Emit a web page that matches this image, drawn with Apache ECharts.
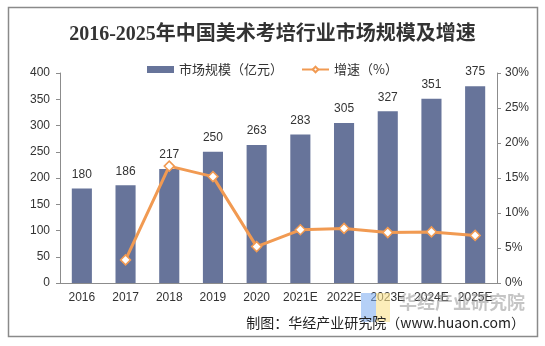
<!DOCTYPE html>
<html>
<head>
<meta charset="utf-8">
<script src="https://cdn.jsdelivr.net/npm/echarts@6/dist/echarts.min.js"></script>
<style>
  html, body { margin: 0; padding: 0; background: #fff; }
  #chart { width: 545px; height: 346px; }
</style>
</head>
<body>
<div id="chart"></div>
<script>
// 2016-2025 art exam training market size (100M yuan) and growth rate (%)
const years = ['2016', '2017', '2018', '2019', '2020', '2021E', '2022E', '2023E', '2024E', '2025E'];
const marketSize = [180, 186, 217, 250, 263, 283, 305, 327, 351, 375];
const growthRate = [null, 3.3, 16.7, 15.2, 5.2, 7.6, 7.8, 7.2, 7.3, 6.8];
const leftTicks = { min: 0, max: 400, interval: 50 };
const rightTicks = { min: 0, max: 30, interval: 5 };

const latin = '"Liberation Sans", Arial, "Noto Sans CJK SC", sans-serif';
const cjk = '"Noto Sans CJK SC", "Liberation Sans", sans-serif';
const barColor = '#67749a';
const lineColor = '#f19a52';
const axisColor = '#8c8c8c';
const textColor = '#333';

const chart = echarts.init(document.getElementById('chart'), null, { renderer: 'canvas' });

chart.setOption({
  backgroundColor: '#fff',
  animation: false,
  title: {
    text: '2016-2025年中国美术考培行业市场规模及增速',
    left: 'center',
    top: 20,
    textStyle: {
      fontFamily: '"Liberation Serif", "Noto Sans CJK SC", serif',
      fontWeight: 'bold',
      fontSize: 20,
      color: '#333'
    }
  },
  legend: {
    top: 58,
    left: 'center',
    itemWidth: 27,
    itemHeight: 7,
    itemGap: 18,
    textStyle: { fontFamily: cjk, fontSize: 13, color: textColor },
    data: [
      { name: '市场规模（亿元）', icon: 'rect' },
      { name: '增速（%）' }
    ]
  },
  grid: { left: 60, right: 48, top: 73, bottom: 63, containLabel: false },
  xAxis: {
    type: 'category',
    data: years,
    axisLine: { lineStyle: { color: axisColor, width: 1 } },
    axisTick: { alignWithLabel: false, length: 4, lineStyle: { color: axisColor } },
    axisLabel: { fontFamily: latin, fontSize: 12, color: textColor, margin: 9, interval: 0 }
  },
  yAxis: [
    {
      type: 'value',
      min: leftTicks.min, max: leftTicks.max, interval: leftTicks.interval,
      axisLine: { show: true, lineStyle: { color: axisColor } },
      axisTick: { show: true, length: 4, lineStyle: { color: axisColor } },
      axisLabel: { fontFamily: latin, fontSize: 12, color: textColor, margin: 10 },
      splitLine: { show: false }
    },
    {
      type: 'value',
      min: rightTicks.min, max: rightTicks.max, interval: rightTicks.interval,
      position: 'right',
      axisLine: { show: true, lineStyle: { color: axisColor } },
      axisTick: { show: true, length: 4, lineStyle: { color: axisColor } },
      axisLabel: { fontFamily: latin, fontSize: 12, color: textColor, margin: 8, formatter: '{value}%' },
      splitLine: { show: false }
    }
  ],
  series: [
    {
      name: '市场规模（亿元）',
      type: 'bar',
      data: marketSize,
      barWidth: '46%',
      itemStyle: { color: barColor },
      label: {
        show: true,
        position: 'top',
        distance: 8,
        fontFamily: latin,
        fontSize: 12,
        color: textColor
      }
    },
    {
      name: '增速（%）',
      type: 'line',
      yAxisIndex: 1,
      data: growthRate,
      symbol: 'diamond',
      symbolSize: 10,
      showAllSymbol: true,
      lineStyle: { color: lineColor, width: 3 },
      itemStyle: { color: '#fff', borderColor: lineColor, borderWidth: 1.5 }
    }
  ],
  graphic: [
    {
      type: 'rect',
      shape: { x: 8.5, y: 7.5, width: 529, height: 329 },
      style: { fill: null, stroke: '#8a8a8a', lineWidth: 1.5 },
      silent: true,
      z: -1
    },
    {
      type: 'rect',
      shape: { x: 361, y: 293, width: 15, height: 29 },
      style: { fill: 'rgba(120,170,240,0.55)' },
      silent: true,
      z: 10
    },
    {
      type: 'rect',
      shape: { x: 376, y: 293, width: 14, height: 29 },
      style: { fill: 'rgba(250,225,140,0.6)' },
      silent: true,
      z: 10
    },
    {
      type: 'text',
      left: 399,
      top: 293,
      style: {
        text: '华经产业研究院',
        font: 'bold 18px "Noto Sans CJK SC", sans-serif',
        fill: 'rgba(150,150,150,0.55)'
      },
      silent: true,
      z: 10
    },
    {
      type: 'text',
      right: 20,
      top: 316,
      style: {
        text: '制图：华经产业研究院（www.huaon.com）',
        font: '14px "Noto Sans CJK SC", sans-serif',
        fill: '#222'
      },
      silent: true,
      z: 11
    }
  ]
});
</script>
</body>
</html>
